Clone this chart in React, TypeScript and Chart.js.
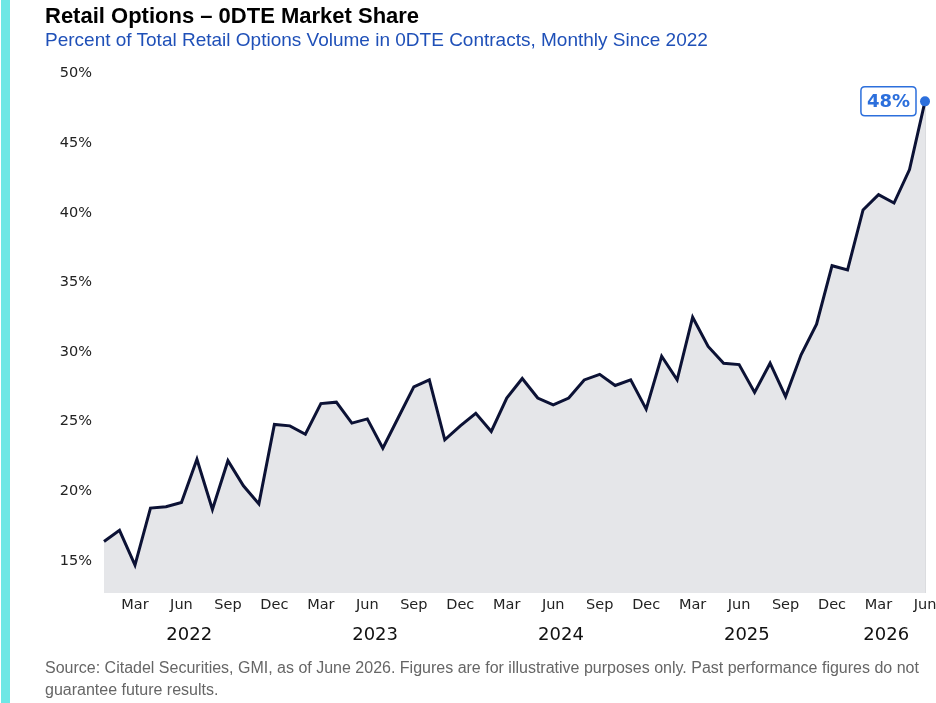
import React, { useEffect, useRef } from 'react';
import { Chart, registerables } from 'chart.js';

Chart.register(...registerables);

const months = [
  '2022-01', '2022-02', '2022-03', '2022-04', '2022-05', '2022-06', '2022-07', '2022-08', '2022-09', '2022-10', '2022-11', '2022-12',
  '2023-01', '2023-02', '2023-03', '2023-04', '2023-05', '2023-06', '2023-07', '2023-08', '2023-09', '2023-10', '2023-11', '2023-12',
  '2024-01', '2024-02', '2024-03', '2024-04', '2024-05', '2024-06', '2024-07', '2024-08', '2024-09', '2024-10', '2024-11', '2024-12',
  '2025-01', '2025-02', '2025-03', '2025-04', '2025-05', '2025-06', '2025-07', '2025-08', '2025-09', '2025-10', '2025-11', '2025-12',
  '2026-01', '2026-02', '2026-03', '2026-04', '2026-05', '2026-06',
];

const shareValues = [
  16.4, 17.2, 14.7, 18.8, 18.9, 19.2, 22.3, 18.7, 22.2, 20.4, 19.1, 24.8,
  24.7, 24.1, 26.3, 26.4, 24.9, 25.2, 23.1, 25.3, 27.5, 28.0, 23.7, 24.7,
  25.6, 24.3, 26.7, 28.1, 26.7, 26.2, 26.7, 28.0, 28.4, 27.6, 28.0, 25.9,
  29.7, 28.0, 32.5, 30.4, 29.2, 29.1, 27.1, 29.2, 26.8, 29.8, 32.0, 36.2,
  35.9, 40.2, 41.3, 40.7, 43.1, 48.0,
];

const monthNames = ['Jan', 'Feb', 'Mar', 'Apr', 'May', 'Jun', 'Jul', 'Aug', 'Sep', 'Oct', 'Nov', 'Dec'];
const labeledMonths = ['Mar', 'Jun', 'Sep', 'Dec'];
const years = ['2022', '2023', '2024', '2025', '2026'];
const yTicks = [15, 20, 25, 30, 35, 40, 45, 50];

const TITLE = 'Retail Options – 0DTE Market Share';
const SUBTITLE = 'Percent of Total Retail Options Volume in 0DTE Contracts, Monthly Since 2022';
const SOURCE_1 = 'Source: Citadel Securities, GMI, as of June 2026. Figures are for illustrative purposes only. Past performance figures do not';
const SOURCE_2 = 'guarantee future results.';

const yearCenters = years.map((yr) => {
  const idx = months.map((m, i) => (m.startsWith(yr) ? i : -1)).filter((i) => i >= 0);
  return (idx[0] + idx[idx.length - 1]) / 2;
});

const edgePlugin = {
  id: 'fillEdge',
  beforeDatasetsDraw(chart: any) {
    const meta = chart.getDatasetMeta(0);
    const pt = meta.data[meta.data.length - 1];
    if (!pt) return;
    const ctx = chart.ctx as CanvasRenderingContext2D;
    ctx.save();
    ctx.strokeStyle = '#cfd0d4';
    ctx.lineWidth = 1.5;
    ctx.beginPath();
    ctx.moveTo(pt.x, pt.y);
    ctx.lineTo(pt.x, chart.chartArea.bottom);
    ctx.stroke();
    ctx.restore();
  },
};

const endLabelPlugin = {
  id: 'endLabel',
  afterDatasetsDraw(chart: any) {
    const meta = chart.getDatasetMeta(0);
    const pt = meta.data[meta.data.length - 1];
    if (!pt) return;
    const ctx = chart.ctx as CanvasRenderingContext2D;
    const text = `${Math.round(shareValues[shareValues.length - 1])}%`;
    ctx.save();
    ctx.font = 'bold 18px "DejaVu Sans"';
    const w = ctx.measureText(text).width;
    const padX = 6;
    const h = 29;
    const right = pt.x - 9;
    const left = right - w - padX * 2;
    const top = pt.y - h / 2;
    const r = 4;
    ctx.beginPath();
    ctx.moveTo(left + r, top);
    ctx.lineTo(right - r, top);
    ctx.quadraticCurveTo(right, top, right, top + r);
    ctx.lineTo(right, top + h - r);
    ctx.quadraticCurveTo(right, top + h, right - r, top + h);
    ctx.lineTo(left + r, top + h);
    ctx.quadraticCurveTo(left, top + h, left, top + h - r);
    ctx.lineTo(left, top + r);
    ctx.quadraticCurveTo(left, top, left + r, top);
    ctx.closePath();
    ctx.fillStyle = '#ffffff';
    ctx.fill();
    ctx.lineWidth = 1.5;
    ctx.strokeStyle = '#2c6fdc';
    ctx.stroke();
    ctx.fillStyle = '#2c6fdc';
    ctx.textAlign = 'center';
    ctx.textBaseline = 'middle';
    ctx.fillText(text, (left + right) / 2, pt.y + 1);
    ctx.restore();
  },
};

function ShareChart() {
  const ref = useRef<HTMLCanvasElement | null>(null);
  useEffect(() => {
    if (!ref.current) return;
    const last = shareValues.length - 1;
    const chart = new Chart(ref.current, {
      type: 'line',
      data: {
        labels: months,
        datasets: [
          {
            data: shareValues,
            borderColor: '#0c1235',
            borderWidth: 3,
            backgroundColor: '#e5e6e9',
            fill: 'start',
            tension: 0,
            pointRadius: (c: any) => (c.dataIndex === last ? 5 : 0),
            pointHoverRadius: 0,
            pointBackgroundColor: '#2c6fdc',
            pointBorderWidth: 0,
            borderJoinStyle: 'miter',
          },
        ],
      },
      options: {
        responsive: false,
        animation: false,
        layout: { padding: { left: 40, right: 11, top: 73.5, bottom: 52 } },
        plugins: {
          legend: { display: false },
          title: { display: false },
          tooltip: { enabled: false },
        },
        scales: {
          x: {
            type: 'category',
            offset: false,
            weight: 0,
            grid: { display: false, drawTicks: false },
            border: { display: false },
            ticks: {
              autoSkip: false,
              maxRotation: 0,
              padding: 4,
              color: '#222',
              font: { family: 'DejaVu Sans', size: 14.5 },
              callback: (_v: any, i: number) => {
                const name = monthNames[parseInt(months[i].slice(5), 10) - 1];
                return labeledMonths.includes(name) ? name : '';
              },
            },
            afterFit: (s: any) => {
              s.height = 26;
              s.paddingLeft = 0;
              s.paddingRight = 0;
            },
          },
          x2: {
            type: 'linear',
            position: 'bottom',
            weight: 1,
            min: 0,
            max: months.length - 1,
            grid: { display: false, drawTicks: false },
            border: { display: false },
            afterBuildTicks: (s: any) => {
              s.ticks = yearCenters.map((v) => ({ value: v }));
            },
            ticks: {
              autoSkip: false,
              maxRotation: 0,
              padding: 6,
              color: '#111',
              font: { family: 'DejaVu Sans', size: 18 },
              callback: (v: any) => {
                const k = yearCenters.indexOf(v);
                return k >= 0 ? years[k] : '';
              },
            },
            afterFit: (s: any) => {
              s.height = 32;
              s.paddingLeft = 0;
              s.paddingRight = 0;
            },
          },
          y: {
            type: 'linear',
            min: 12.7,
            max: 50,
            grid: { display: false, drawTicks: false },
            border: { display: false },
            afterBuildTicks: (s: any) => {
              s.ticks = yTicks.map((v) => ({ value: v }));
            },
            ticks: {
              padding: 12,
              color: '#222',
              font: { family: 'DejaVu Sans', size: 14.5 },
              callback: (v: any) => `${v}%`,
            },
            afterFit: (s: any) => {
              s.width = 64;
            },
          },
        },
      } as any,
      plugins: [edgePlugin, endLabelPlugin],
    });
    return () => chart.destroy();
  }, []);
  return (
    <canvas
      ref={ref}
      width={936}
      height={703}
      style={{ position: 'absolute', left: 0, top: 0, width: 936, height: 703 }}
    />
  );
}

export default function App() {
  return (
    <div
      style={{
        position: 'absolute',
        left: 0,
        top: 0,
        width: 936,
        height: 703,
        background: '#ffffff',
        overflow: 'hidden',
        fontFamily: '"Liberation Sans", Arial, sans-serif',
      }}
    >
      <div style={{ position: 'absolute', left: 1, top: 0, width: 9, height: 703, background: '#6ee7e5' }} />
      <ShareChart />
      <div
        style={{
          position: 'absolute',
          left: 45,
          top: 3,
          fontSize: 22,
          fontWeight: 'bold',
          color: '#000',
          whiteSpace: 'nowrap',
          lineHeight: '25px',
        }}
      >
        {TITLE}
      </div>
      <div
        style={{
          position: 'absolute',
          left: 45,
          top: 28,
          fontSize: 19,
          color: '#1f50b8',
          whiteSpace: 'nowrap',
          lineHeight: '23px',
        }}
      >
        {SUBTITLE}
      </div>
      <div
        style={{
          position: 'absolute',
          left: 45,
          top: 657,
          fontSize: 16,
          color: '#666',
          whiteSpace: 'nowrap',
          lineHeight: '22px',
        }}
      >
        {SOURCE_1}
        <br />
        {SOURCE_2}
      </div>
    </div>
  );
}
